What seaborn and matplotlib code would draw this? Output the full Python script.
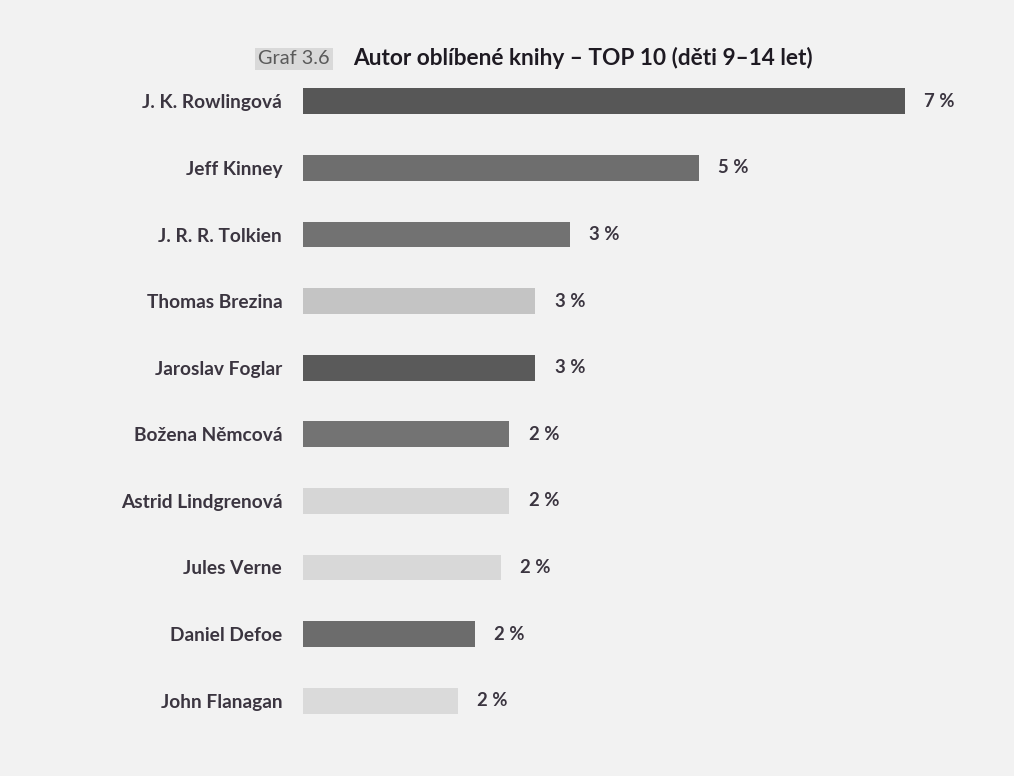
import matplotlib
matplotlib.use("Agg")
import matplotlib.pyplot as plt
import seaborn as sns
import pandas as pd

# Top 10 favourite book authors, children aged 9-14 (share of respondents, %)
authors = [
    "J. K. Rowlingová",
    "Jeff Kinney",
    "J. R. R. Tolkien",
    "Thomas Brezina",
    "Jaroslav Foglar",
    "Božena Němcová",
    "Astrid Lindgrenová",
    "Jules Verne",
    "Daniel Defoe",
    "John Flanagan",
]
shares = [7.0, 4.6, 3.1, 2.7, 2.7, 2.4, 2.4, 2.3, 2.0, 1.8]
bar_colors = ["#575757", "#6e6e6e", "#727272", "#c4c4c4", "#5a5a5a",
              "#737373", "#d6d6d6", "#d8d8d8", "#6c6c6c", "#dadada"]

df = pd.DataFrame({"author": authors, "share": shares})

sns.set_theme(style="white")
plt.rcParams["font.family"] = ["Lato", "DejaVu Sans"]

paper = "#f2f2f2"
ink = "#3b3540"

W, H = 1014, 776
fig = plt.figure(figsize=(W / 100, H / 100), dpi=100, facecolor=paper)

px_per_unit = 86.0
ax_left, ax_width = 303, 700
ax_top, ax_bottom = 68, 734
ax = fig.add_axes([ax_left / W, 1 - ax_bottom / H, ax_width / W, (ax_bottom - ax_top) / H])
ax.set_facecolor(paper)

sns.barplot(data=df, x="share", y="author", hue="author", palette=bar_colors,
            width=0.39, legend=False, ax=ax, saturation=1, linewidth=0,
            edgecolor="none")

ax.set_xlim(0, ax_width / px_per_unit)
ax.set_ylim(9.5, -0.5)
for s in ax.spines.values():
    s.set_visible(False)
ax.set_xticks([])
ax.set_xlabel("")
ax.set_ylabel("")
ax.tick_params(axis="y", length=0, pad=15)
for lbl in ax.get_yticklabels():
    lbl.set_fontweight("bold")
    lbl.set_fontsize(13.8)
    lbl.set_color(ink)

for i, v in enumerate(shares):
    ax.annotate(f"{round(v)} %", xy=(v, i), xytext=(14, 0), textcoords="offset points",
                ha="left", va="center", fontsize=13.3, fontweight="bold", color=ink)

fig.text(258 / W, 1 - 59 / H, "Graf 3.6", ha="left", va="center", fontsize=14.3,
         color="#5a5a5a",
         bbox=dict(boxstyle="square,pad=0.15", facecolor="#d9d9d9", edgecolor="none"))
fig.text(353 / W, 1 - 58 / H, "Autor oblíbené knihy – TOP 10 (děti 9–14 let)",
         ha="left", va="center", fontsize=16.3, fontweight="bold", color="#1e1a22")

fig.savefig("out.png", dpi=100, facecolor=paper)
